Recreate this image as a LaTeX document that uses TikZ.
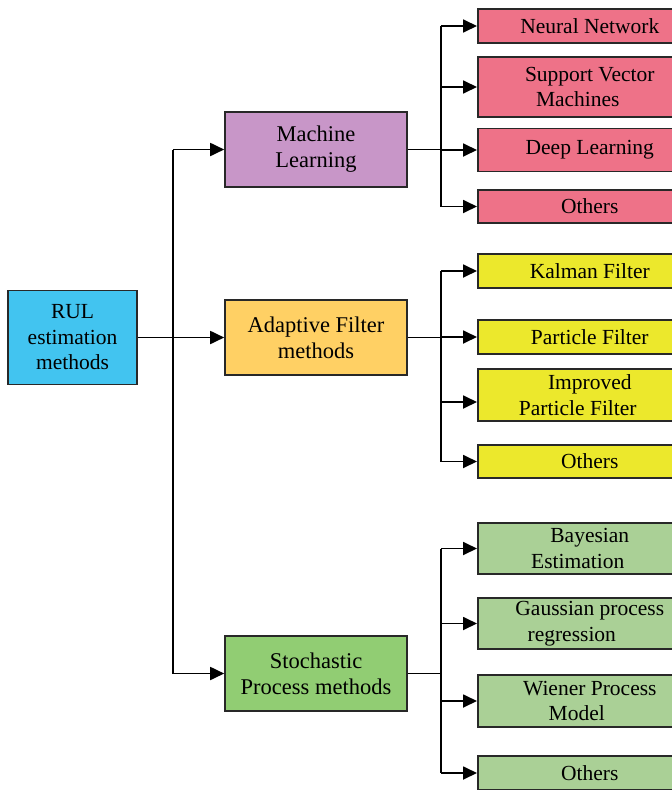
\documentclass[tikz,border=0pt]{standalone}
\usepackage{fontspec}
\setmainfont{Liberation Serif}
\usetikzlibrary{arrows.meta,calc}

\definecolor{rulblue}{RGB}{66,196,240}
\definecolor{mlpurple}{RGB}{200,150,200}
\definecolor{aforange}{RGB}{255,208,100}
\definecolor{spgreen}{RGB}{145,205,115}
\definecolor{leafpink}{RGB}{238,114,136}
\definecolor{leafyellow}{RGB}{236,232,44}
\definecolor{leafgreen}{RGB}{170,208,150}
\definecolor{edgegray}{RGB}{40,40,40}

\begin{document}
\begin{tikzpicture}[x=1pt,y=-1pt,
  box/.style={draw=edgegray,line width=1.6pt,inner sep=0pt,align=center,
              font=\fontsize{21.5}{25.5}\selectfont},
  root/.style={box,fill=rulblue,minimum width=129pt,minimum height=94pt},
  mid/.style={box,minimum width=182pt,minimum height=75pt,
              font=\fontsize{22.5}{26}\selectfont},
  leaf/.style={box,anchor=west,minimum width=224pt},
  link/.style={line width=1.8pt,black},
  arr/.style={link,-{Triangle[length=14pt,width=13pt]}}]
\useasboundingbox (0,0) rectangle (672,790);

% root and the three method families
\node[root] (rul) at (72.5,337.5) {RUL\\estimation\\methods};
\node[mid,fill=mlpurple] (ml) at (316,149.5) {Machine\\Learning};
\node[mid,fill=aforange] (af) at (316,337.5) {Adaptive Filter\\methods};
\node[mid,fill=spgreen]  (sp) at (316,673.5) {Stochastic\\Process methods};

% machine learning leaves
\node[leaf,fill=leafpink,minimum height=34pt] (nn)   at (477,26)    {Neural Network};
\node[leaf,fill=leafpink,minimum height=60pt] (svm)  at (477,87)    {Support Vector\\Machines\hspace*{24pt}};
\node[leaf,fill=leafpink,minimum height=43pt] (dl)   at (477,150)   {Deep Learning};
\node[leaf,fill=leafpink,minimum height=33pt] (oml)  at (477,206.5) {Others};

% adaptive filter leaves
\node[leaf,fill=leafyellow,minimum height=34pt] (kf)  at (477,271)   {Kalman Filter};
\node[leaf,fill=leafyellow,minimum height=34pt] (pf)  at (477,337)   {Particle Filter};
\node[leaf,fill=leafyellow,minimum height=52pt] (ipf) at (477,395)   {Improved\\Particle Filter\hspace*{24pt}};
\node[leaf,fill=leafyellow,minimum height=33pt] (oaf) at (477,461.5) {Others};

% stochastic process leaves
\node[leaf,fill=leafgreen,minimum height=51pt] (be)  at (477,548.5) {Bayesian\\Estimation\hspace*{24pt}};
\node[leaf,fill=leafgreen,minimum height=51pt] (gpr) at (477,623.5) {Gaussian process\\regression\hspace*{36pt}};
\node[leaf,fill=leafgreen,minimum height=52pt] (wpm) at (477,701)   {Wiener Process\\Model\hspace*{26pt}};
\node[leaf,fill=leafgreen,minimum height=34pt] (osp) at (477,773)   {Others};

% trunk from the root
\coordinate (j) at ([xshift=35pt]rul.east);
\draw[link] (j |- ml.west) -- (j |- sp.west);
\draw[arr] (rul.east) -- (af.west);
\draw[arr] (j |- ml.west) -- (ml.west);
\draw[arr] (j |- sp.west) -- (sp.west);

% machine learning branch
\coordinate (b1) at ([xshift=33pt]ml.east);
\draw[link] (ml.east) -- (b1);
\draw[link] (b1 |- nn.west) -- (b1 |- oml.west);
\foreach \n in {nn,svm,dl,oml} \draw[arr] (b1 |- \n.west) -- (\n.west);

% adaptive filter branch
\coordinate (b2) at ([xshift=33pt]af.east);
\coordinate (ipfin) at ([yshift=-7pt]ipf.west);
\draw[link] (af.east) -- (b2);
\draw[link] (b2 |- kf.west) -- (b2 |- oaf.west);
\foreach \n in {kf,pf,oaf} \draw[arr] (b2 |- \n.west) -- (\n.west);
\draw[arr] (b2 |- ipfin) -- (ipfin);

% stochastic process branch
\coordinate (b3) at ([xshift=33pt]sp.east);
\draw[link] (sp.east) -- (b3);
\draw[link] (b3 |- be.west) -- (b3 |- osp.west);
\foreach \n in {be,gpr,wpm,osp} \draw[arr] (b3 |- \n.west) -- (\n.west);
\end{tikzpicture}
\end{document}
